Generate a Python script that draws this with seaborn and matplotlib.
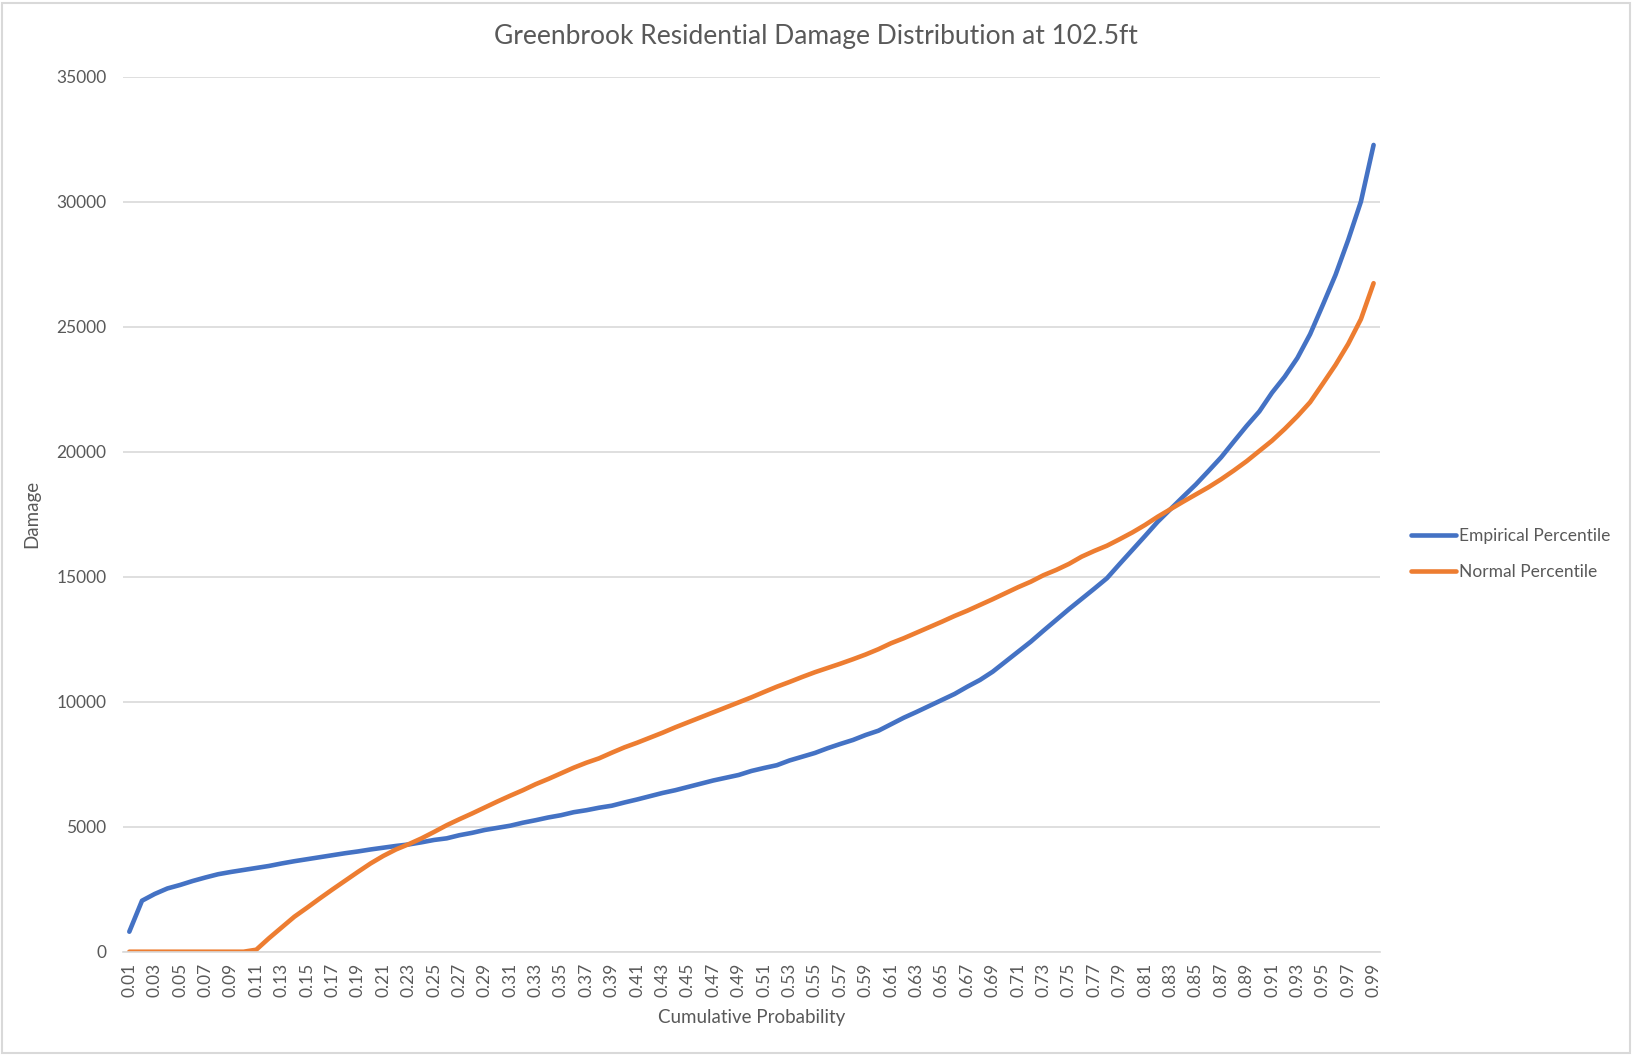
import numpy as np
import pandas as pd
import matplotlib
matplotlib.use('Agg')
import matplotlib.pyplot as plt
from matplotlib.patches import Rectangle
import seaborn as sns

# cumulative probability categories 0.01 .. 0.99
probability = [round(i / 100, 2) for i in range(1, 100)]

empirical = [800, 2040, 2310, 2530, 2670, 2830, 2970, 3100, 3190, 3270,
             3350, 3430, 3530, 3620, 3700, 3780, 3860, 3940, 4010, 4090,
             4160, 4230, 4290, 4375, 4470, 4535, 4660, 4755, 4870, 4955,
             5040, 5160, 5260, 5370, 5460, 5580, 5660, 5760, 5840, 5970,
             6090, 6220, 6350, 6460, 6590, 6720, 6850, 6960, 7070, 7230,
             7350, 7460, 7650, 7800, 7950, 8140, 8310, 8470, 8670, 8840,
             9100, 9360, 9590, 9830, 10070, 10310, 10600, 10870, 11200, 11600,
             12000, 12400, 12840, 13270, 13700, 14110, 14520, 14940, 15510, 16070,
             16630, 17200, 17700, 18200, 18690, 19230, 19780, 20410, 21030, 21610,
             22360, 23000, 23750, 24700, 25870, 27070, 28470, 30000, 32270]

normal = [0, 0, 0, 0, 0, 0, 0, 0, 0, 0,
          80, 540, 970, 1400, 1760, 2130, 2490, 2840, 3190, 3530,
          3830, 4090, 4300, 4530, 4790, 5060, 5300, 5530, 5770, 6010,
          6240, 6460, 6700, 6910, 7135, 7360, 7560, 7735, 7960, 8175,
          8360, 8560, 8760, 8975, 9175, 9375, 9575, 9775, 9975, 10175,
          10390, 10600, 10790, 10990, 11180, 11350, 11520, 11700, 11890, 12100,
          12340, 12540, 12760, 12980, 13200, 13430, 13640, 13870, 14100, 14340,
          14580, 14800, 15060, 15270, 15510, 15800, 16030, 16240, 16500, 16770,
          17070, 17400, 17700, 18000, 18290, 18580, 18900, 19250, 19620, 20030,
          20440, 20910, 21420, 21980, 22720, 23470, 24310, 25300, 26740]

series_names = ['Empirical Percentile', 'Normal Percentile']
y_ticks = [0, 5000, 10000, 15000, 20000, 25000, 30000, 35000]
x_ticks = probability[::2]

df = pd.DataFrame({'prob': probability,
                   series_names[0]: empirical,
                   series_names[1]: normal})
long_df = df.melt(id_vars='prob', var_name='series', value_name='damage')

sns.set_theme(style='white')
plt.rcParams['font.family'] = ['Lato', 'DejaVu Sans']
text_gray = '#595959'
grid_gray = '#D9D9D9'

fig = plt.figure(figsize=(16.35, 10.55), dpi=100)
ax = fig.add_axes([0.0752, 0.0979, 0.7688, 0.8294])

sns.lineplot(data=long_df, x='prob', y='damage', hue='series',
             palette=['#4472C4', '#ED7D31'], linewidth=3.3, ax=ax,
             legend=True)

ax.set_xlim(0.005, 0.995)
ax.set_ylim(0, 35000)
ax.set_yticks(y_ticks)
ax.set_yticklabels([str(v) for v in y_ticks])
ax.set_xticks(x_ticks)
ax.set_xticklabels([f'{v:.2f}' for v in x_ticks], rotation=90)
ax.grid(axis='y', color=grid_gray, linewidth=1.2)
ax.set_axisbelow(True)
for side in ['top', 'right', 'left']:
    ax.spines[side].set_visible(False)
ax.spines['bottom'].set_color(grid_gray)
ax.spines['bottom'].set_linewidth(1.2)
ax.tick_params(axis='both', length=0, colors=text_gray, labelsize=12.5)
ax.tick_params(axis='y', pad=12)
ax.tick_params(axis='x', pad=8)

ax.set_xlabel('Cumulative Probability', fontsize=13.5, color=text_gray)
ax.set_ylabel('Damage', fontsize=13.5, color=text_gray)
ax.xaxis.set_label_coords(0.5, -0.066)
ax.yaxis.set_label_coords(-0.066, 0.5)

fig.text(0.499, 0.9654, 'Greenbrook Residential Damage Distribution at 102.5ft',
         ha='center', va='center', fontsize=19, color=text_gray)

ax.legend(loc='center left', bbox_to_anchor=(1.012, 0.4545), frameon=False,
          fontsize=12.5, handlelength=2.6, handletextpad=0.2, labelspacing=1.15,
          labelcolor=text_gray)

fig.patches.append(Rectangle((0.0015, 0.002), 0.9955, 0.995, transform=fig.transFigure,
                             fill=False, edgecolor=grid_gray, linewidth=1.5))

fig.savefig('out.png', dpi=100, facecolor='white')
